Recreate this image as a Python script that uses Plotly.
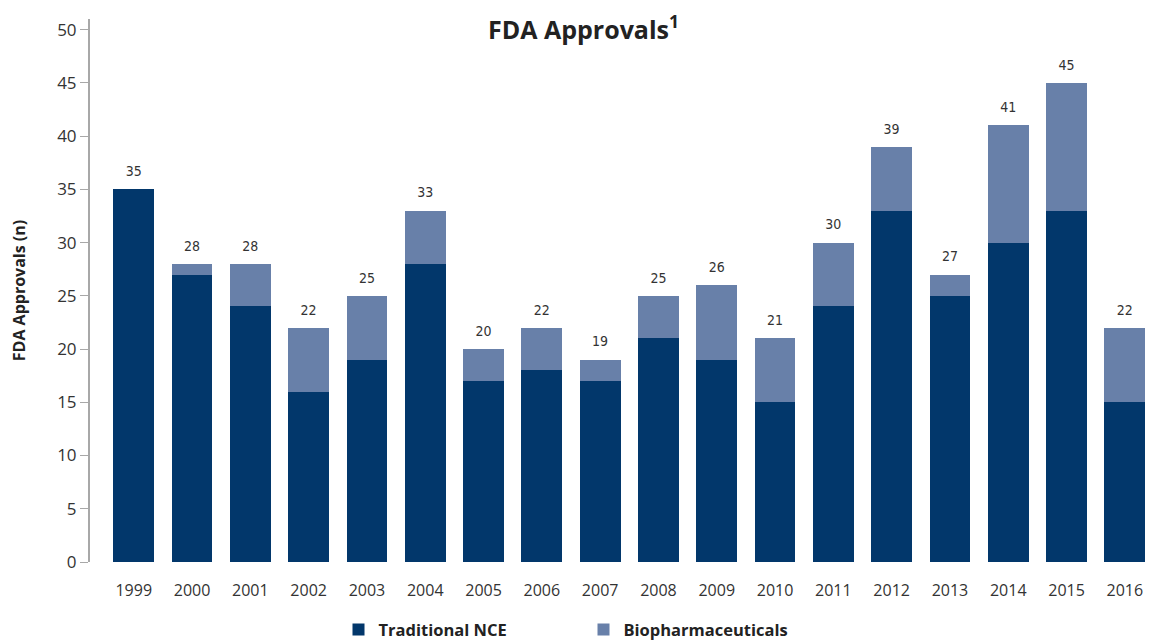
import plotly.graph_objects as go

years = ["1999", "2000", "2001", "2002", "2003", "2004", "2005", "2006", "2007",
         "2008", "2009", "2010", "2011", "2012", "2013", "2014", "2015", "2016"]
totals = [35, 28, 28, 22, 25, 33, 20, 22, 19, 25, 26, 21, 30, 39, 27, 41, 45, 22]
nce = [35, 27, 24, 16, 19, 28, 17, 18, 17, 21, 19, 15, 24, 33, 25, 30, 33, 15]
bio = [t - n for t, n in zip(totals, nce)]

DARK = "#02376B"
LIGHT = "#6880A9"
FONT = "Open Sans, Inter, sans-serif"

W, H = 1151, 633  # page body has an 8px margin

fig = go.Figure()
fig.add_trace(go.Bar(x=years, y=nce, name="Traditional NCE", marker_color=DARK,
                     marker_line_width=0, hoverinfo="skip"))
fig.add_trace(go.Bar(x=years, y=bio, name="Biopharmaceuticals", marker_color=LIGHT,
                     marker_line_width=0, hoverinfo="skip"))
fig.add_trace(go.Scatter(x=years, y=totals, mode="markers+text", text=[str(t) for t in totals],
                         textposition="top center", showlegend=False, hoverinfo="skip",
                         marker=dict(size=14, opacity=0),
                         textfont=dict(family="DejaVu Sans Condensed, DejaVu Sans", size=14, color="#333333")))

fig.update_layout(
    width=W, height=H,
    barmode="stack", bargap=0.3,
    paper_bgcolor="white", plot_bgcolor="white",
    margin=dict(l=82, r=5, t=11, b=79, autoexpand=False),
    font=dict(family=FONT, color="#333333"),
    title=dict(text="<b>FDA Approvals<sup>1</sup></b>", x=0.5, xanchor="center",
               y=1 - 22 / H, yanchor="middle",
               font=dict(family=FONT, size=25, color="#222222")),
    showlegend=True,
    legend=dict(orientation="h", x=0.5, xref="container", xanchor="center",
                y=-0.125, yanchor="middle",
                font=dict(family=FONT, size=16.5, color="#222222", weight="bold"),
                entrywidth=200, traceorder="normal"),
)
fig.update_xaxes(range=[-0.75, 17.5], showline=False, ticks="", showgrid=False,
                 tickfont=dict(family=FONT, size=16, color="#333333"), ticklabelstandoff=17)
fig.update_yaxes(range=[0, 51], tickvals=[0, 5, 10, 15, 20, 25, 30, 35, 40, 45, 50],
                 showline=True, linecolor="#A8A8A8", linewidth=2, ticks="outside",
                 ticklen=8, tickcolor="#A8A8A8", showgrid=False, zeroline=False,
                 tickfont=dict(family=FONT, size=17, color="#333333"),
                 title=dict(text="<b>FDA Approvals (n)</b>", standoff=28,
                            font=dict(family=FONT, size=16, color="#222222")))

fig.write_html("out.html")
